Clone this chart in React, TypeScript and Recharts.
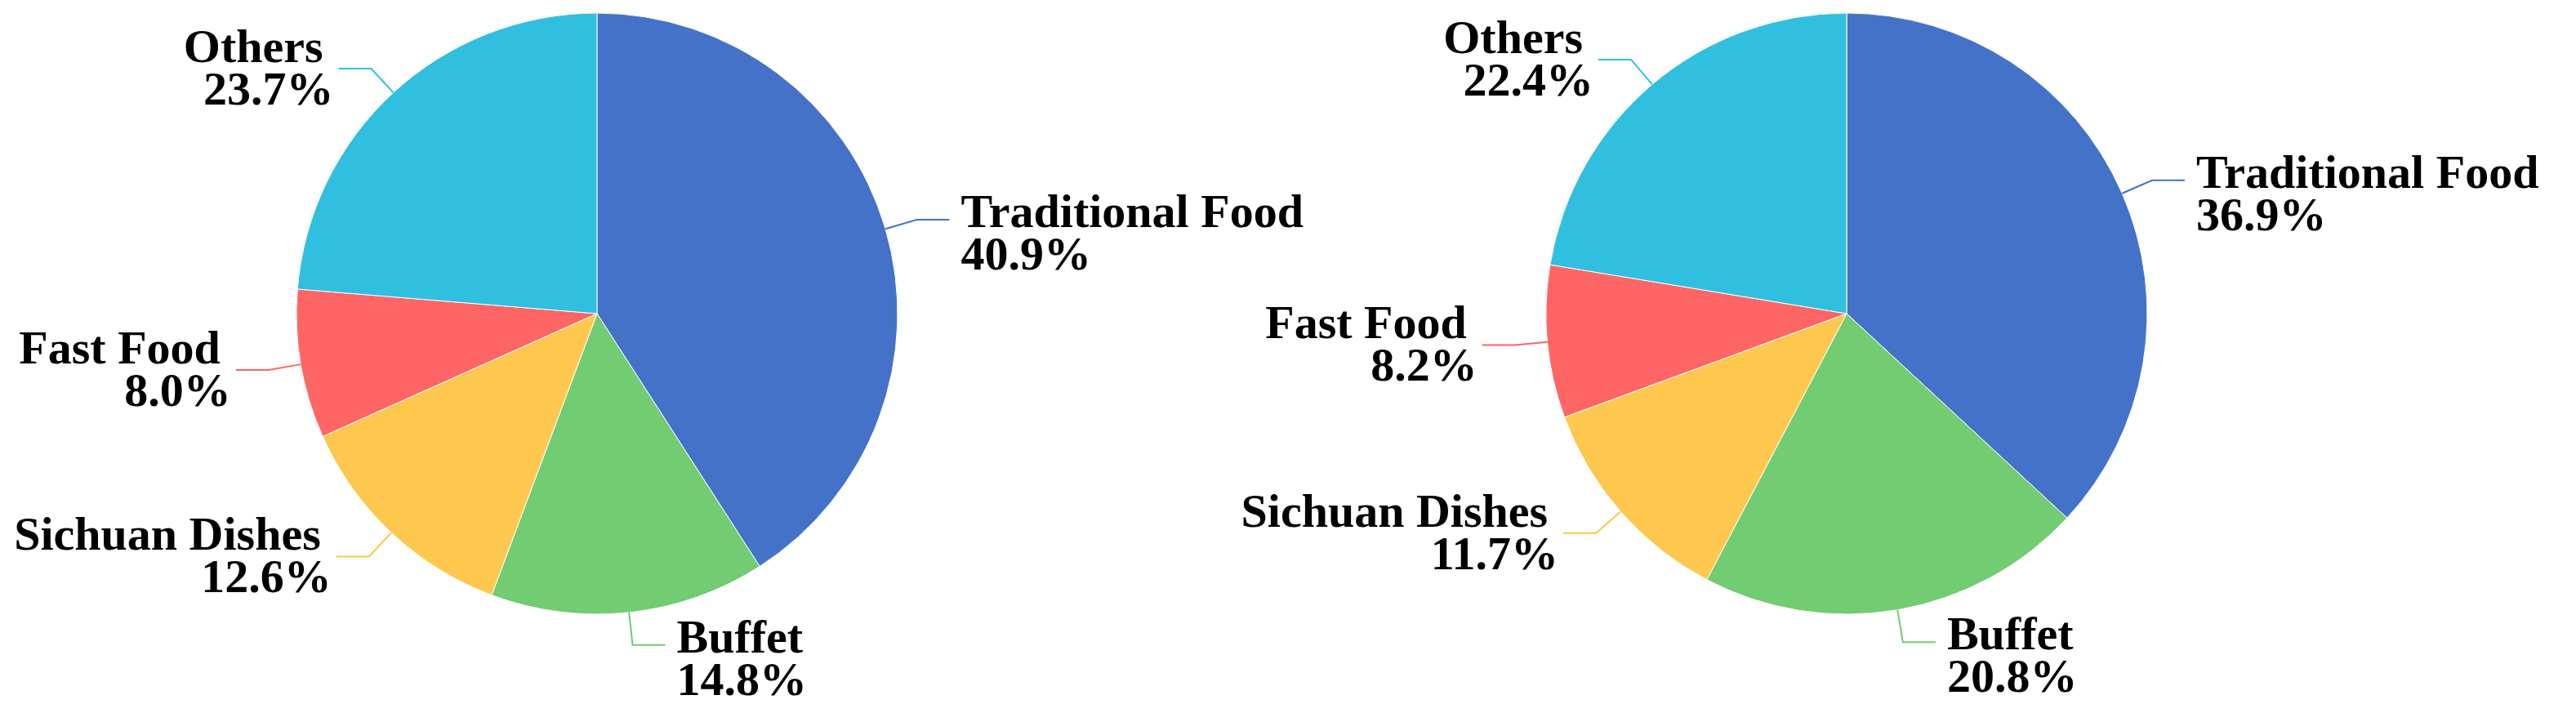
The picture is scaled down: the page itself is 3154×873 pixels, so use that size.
import React from 'react';
import { PieChart, Pie, Cell } from 'recharts';

const categories = ['Traditional Food', 'Buffet', 'Sichuan Dishes', 'Fast Food', 'Others'];
const leftShares = [40.9, 14.8, 12.6, 8.0, 23.7];
const rightShares = [36.9, 20.8, 11.7, 8.2, 22.4];
const colors = ['#4472C8', '#71CC72', '#FEC84E', '#FE6565', '#30BFDF'];

const leftData = categories.map((name, i) => ({ name, value: leftShares[i] }));
const rightData = categories.map((name, i) => ({ name, value: rightShares[i] }));

const RADIAN = Math.PI / 180;
const FONT = "'Liberation Serif', 'Times New Roman', serif";

// leader line: short radial piece, then a horizontal run, then a two-line label
const renderLabel = (props: any) => {
    const { cx, cy, midAngle, outerRadius, index, name, value } = props;
    const cos = Math.cos(-midAngle * RADIAN);
    const sin = Math.sin(-midAngle * RADIAN);
    const x0 = cx + outerRadius * cos;
    const y0 = cy + outerRadius * sin;
    const x1 = cx + (outerRadius + 40) * cos;
    const y1 = cy + (outerRadius + 40) * sin;
    const right = cos >= 0;
    const x2 = x1 + (right ? 40 : -40);
    const color = colors[index % colors.length];
    const pct = `${Number(value).toFixed(1)}%`;

    const nameY = right ? y1 + 9 : y1 - 8;
    const nameX = right ? x2 + 14 : x2 - 19;
    const pctX = right ? x2 + 14 : x2 - 6;
    const anchor = right ? 'start' : 'end';

    return (
        <g>
            <polyline
                points={`${x0},${y0} ${x1},${y1} ${x2},${y1}`}
                stroke={color}
                strokeWidth={2}
                fill="none"
            />
            <text textAnchor={anchor} fontFamily={FONT} fontWeight="bold" fontSize={58} fill="#000">
                <tspan x={nameX} y={nameY}>{name}</tspan>
                <tspan x={pctX} y={nameY + 52}>{pct}</tspan>
            </text>
        </g>
    );
};

const App: React.FC = () => {
    return (
        <div style={{ position: 'absolute', left: 0, top: 0, background: '#fff' }}>
            <PieChart width={3154} height={873}>
                <Pie
                    data={leftData}
                    dataKey="value"
                    nameKey="name"
                    cx={726}
                    cy={379}
                    outerRadius={368}
                    startAngle={90}
                    endAngle={-270}
                    stroke="#fff"
                    strokeWidth={1}
                    labelLine={false}
                    label={renderLabel}
                    isAnimationActive={false}
                >
                    {leftData.map((entry, i) => (
                        <Cell key={entry.name} fill={colors[i]} />
                    ))}
                </Pie>
                <Pie
                    data={rightData}
                    dataKey="value"
                    nameKey="name"
                    cx={2256}
                    cy={379}
                    outerRadius={368}
                    startAngle={90}
                    endAngle={-270}
                    stroke="#fff"
                    strokeWidth={1}
                    labelLine={false}
                    label={renderLabel}
                    isAnimationActive={false}
                >
                    {rightData.map((entry, i) => (
                        <Cell key={entry.name} fill={colors[i]} />
                    ))}
                </Pie>
            </PieChart>
        </div>
    );
};

export default App;
